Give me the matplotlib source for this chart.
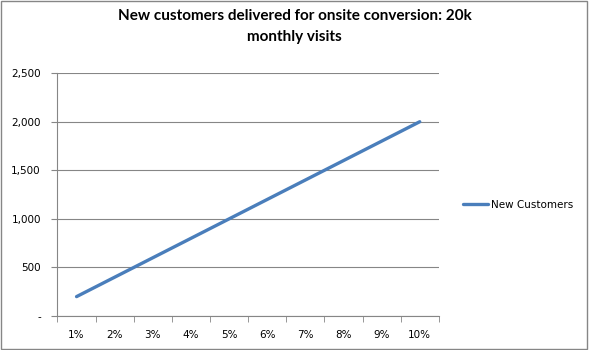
#!/usr/bin/env python3
import matplotlib.pyplot as plt
from matplotlib.patches import Rectangle
from matplotlib.ticker import FuncFormatter

# Chart data
rates = ['1%', '2%', '3%', '4%', '5%', '6%', '7%', '8%', '9%', '10%']
new_customers = [200, 400, 600, 800, 1000, 1200, 1400, 1600, 1800, 2000]
y_ticks = [0, 500, 1000, 1500, 2000, 2500]

LINE_COLOR = '#4A7EBB'
GRID_COLOR = '#868686'

fig = plt.figure(figsize=(5.89, 3.5), dpi=100)
ax = fig.add_axes([0.0976, 0.097, 0.6474, 0.694])

x = list(range(len(rates)))
ax.plot(x, new_customers, color=LINE_COLOR, linewidth=2.4,
        solid_capstyle='round', label='New Customers')

ax.set_xlim(-0.5, len(rates) - 0.5)
ax.set_ylim(0, 2500)
ax.set_yticks(y_ticks)
ax.yaxis.set_major_formatter(FuncFormatter(lambda v, p: '-' if v == 0 else f'{int(v):,}'))
ax.set_xticks(x)
ax.set_xticklabels(rates)
ax.set_xticks([i - 0.5 for i in range(len(rates) + 1)], minor=True)
ax.tick_params(axis='x', which='major', length=0, pad=10, labelsize=7.5)
ax.tick_params(axis='x', which='minor', length=4, color=GRID_COLOR, direction='out')
ax.tick_params(axis='y', length=4, color=GRID_COLOR, direction='out', labelsize=7.5, pad=8)

ax.grid(axis='y', color=GRID_COLOR, linewidth=0.8)
ax.set_axisbelow(True)
for side in ['top', 'right']:
    ax.spines[side].set_visible(False)
for side in ['left', 'bottom']:
    ax.spines[side].set_color(GRID_COLOR)
    ax.spines[side].set_linewidth(0.8)

fig.legend(loc='center left', bbox_to_anchor=(0.77, 0.415), frameon=False,
           fontsize=7.5, handlelength=2.4, handletextpad=0.3)

fig.suptitle('New customers delivered for onsite conversion: 20k\nmonthly visits',
             x=0.5, y=0.975, fontsize=11, fontweight='bold', family='Lato',
             linespacing=1.7)

# Outer border of the chart
fig.patches.append(Rectangle((0.002, 0.003), 0.995, 0.994, transform=fig.transFigure,
                             fill=False, edgecolor=GRID_COLOR, linewidth=1))

plt.savefig('out.png', dpi=100)
